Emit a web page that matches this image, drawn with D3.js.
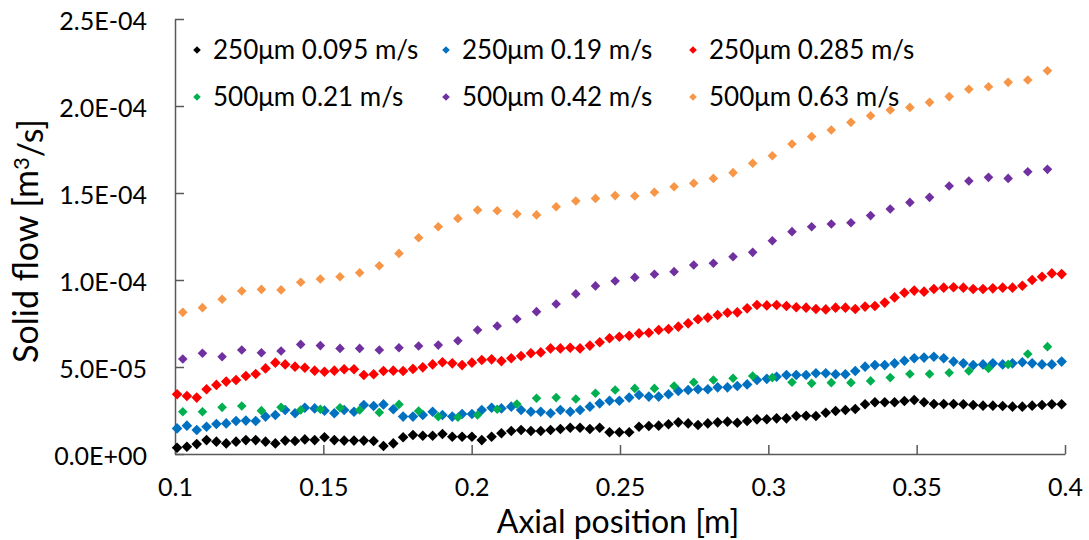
<!DOCTYPE html>
<html>
<head>
<meta charset="utf-8">
<script src="https://cdn.jsdelivr.net/npm/d3@7"></script>
<style>
  html, body { margin: 0; padding: 0; background: #ffffff; }
  svg { display: block; font-family: Lato, "Open Sans", "Liberation Sans", sans-serif; }
</style>
</head>
<body>
<svg id="chart" width="1089" height="540"></svg>
<script>
// Solid flow along the axial position, values in units of 1e-5 m³/s
const UNIT = 1e-5;

// Fine sampling grid (91 stations) and coarse grid (45 stations), axial position in m
const fineStart = 0.1007, fineStep = 0.003313, fineCount = 91;
const coarseStart = 0.10263, coarseStep = 0.006624, coarseCount = 45;

const flow250_0095 = [
  0.36, 0.42, 0.57, 0.80, 0.71, 0.61, 0.71, 0.80, 0.80, 0.71,
  0.61, 0.77, 0.75, 0.84, 0.80, 0.96, 0.80, 0.77, 0.77, 0.77,
  0.75, 0.46, 0.61, 0.96, 1.09, 1.05, 1.05, 1.15, 0.99, 0.99,
  0.99, 0.80, 0.99, 1.19, 1.32, 1.38, 1.32, 1.32, 1.38, 1.44,
  1.51, 1.51, 1.44, 1.51, 1.25, 1.25, 1.25, 1.57, 1.61, 1.63,
  1.71, 1.82, 1.76, 1.67, 1.76, 1.82, 1.86, 1.80, 1.90, 1.99,
  2.00, 2.05, 2.05, 2.18, 2.20, 2.18, 2.37, 2.47, 2.53, 2.59,
  2.86, 2.97, 2.97, 2.97, 3.05, 3.10, 2.97, 2.87, 2.87, 2.87,
  2.86, 2.82, 2.78, 2.78, 2.76, 2.72, 2.72, 2.78, 2.82, 2.86,
  2.86
];

const flow250_019 = [
  1.47, 1.63, 1.38, 1.57, 1.72, 1.76, 1.90, 1.92, 1.90, 2.15,
  2.24, 2.53, 2.34, 2.66, 2.62, 2.49, 2.34, 2.53, 2.43, 2.82,
  2.76, 2.85, 2.57, 2.15, 2.15, 2.24, 2.43, 2.24, 2.15, 2.30,
  2.30, 2.53, 2.66, 2.62, 2.72, 2.53, 2.43, 2.43, 2.34, 2.53,
  2.43, 2.53, 2.72, 2.91, 3.06, 3.06, 3.24, 3.39, 3.30, 3.30,
  3.43, 3.62, 3.68, 3.72, 3.72, 3.83, 3.83, 3.91, 4.00, 4.25,
  4.32, 4.44, 4.54, 4.54, 4.54, 4.64, 4.64, 4.58, 4.58, 4.77,
  5.02, 5.11, 5.11, 5.21, 5.36, 5.50, 5.54, 5.59, 5.50, 5.31,
  5.21, 5.11, 5.15, 5.21, 5.15, 5.21, 5.27, 5.21, 5.15, 5.15,
  5.31
];

const flow250_0285 = [
  3.43, 3.33, 3.24, 3.72, 3.97, 4.16, 4.25, 4.48, 4.60, 4.92,
  5.25, 5.15, 5.02, 4.96, 4.79, 4.73, 4.79, 4.87, 4.87, 4.54,
  4.58, 4.77, 4.79, 4.77, 4.89, 4.98, 5.15, 5.27, 5.21, 5.11,
  5.25, 5.40, 5.44, 5.34, 5.50, 5.63, 5.79, 5.84, 6.07, 6.07,
  6.11, 6.07, 6.23, 6.42, 6.65, 6.74, 6.80, 6.93, 6.97, 7.13,
  7.18, 7.32, 7.51, 7.74, 7.84, 7.99, 8.12, 8.14, 8.37, 8.56,
  8.54, 8.56, 8.51, 8.43, 8.41, 8.33, 8.31, 8.41, 8.41, 8.33,
  8.47, 8.51, 8.70, 9.00, 9.27, 9.39, 9.33, 9.48, 9.56, 9.58,
  9.56, 9.48, 9.48, 9.52, 9.56, 9.56, 9.67, 10.00, 10.19, 10.38,
  10.34
];

const flow500_021 = [
  2.43, 2.43, 2.68, 2.76, 2.49, 2.68, 2.53, 2.57, 2.66, 2.53,
  2.39, 2.85, 2.47, 2.15, 2.11, 2.24, 2.57, 2.87, 3.20, 3.24,
  3.16, 3.49, 3.68, 3.77, 3.77, 3.91, 4.12, 4.25, 4.35, 4.48,
  4.39, 4.12, 4.06, 4.10, 4.10, 4.20, 4.39, 4.60, 4.60, 4.67,
  4.77, 4.92, 5.15, 5.75, 6.17
];

const flow500_042 = [
  5.46, 5.79, 5.59, 5.98, 5.82, 5.92, 6.30, 6.23, 6.07, 6.07,
  5.98, 6.11, 6.21, 6.26, 6.51, 7.13, 7.36, 7.76, 8.18, 8.62,
  9.20, 9.66, 9.94, 10.15, 10.33, 10.48, 10.86, 10.96, 11.34, 11.59,
  12.26, 12.78, 13.06, 13.22, 13.29, 13.70, 14.08, 14.46, 14.75, 15.40,
  15.69, 15.90, 15.84, 16.22, 16.36
];

const flow500_063 = [
  8.14, 8.41, 8.89, 9.37, 9.46, 9.43, 9.87, 10.06, 10.19, 10.42,
  10.82, 11.53, 12.43, 13.06, 13.54, 14.02, 13.98, 13.79, 13.74, 14.21,
  14.54, 14.69, 14.85, 14.83, 15.04, 15.36, 15.56, 15.84, 16.17, 16.71,
  17.14, 17.82, 18.24, 18.62, 19.06, 19.44, 19.77, 19.92, 20.21, 20.54,
  20.96, 21.11, 21.36, 21.49, 22.03
];

const seriesNames = [
  "250μm 0.095 m/s", "250μm 0.19 m/s", "250μm 0.285 m/s",
  "500μm 0.21 m/s", "500μm 0.42 m/s", "500μm 0.63 m/s"
];
const seriesColors = ["#000000", "#0070C0", "#FF0000", "#00B050", "#7030A0", "#F79646"];
const seriesValues = [flow250_0095, flow250_019, flow250_0285, flow500_021, flow500_042, flow500_063];
const seriesGrid = ["fine", "fine", "fine", "coarse", "coarse", "coarse"];

const xTicks = [0.1, 0.15, 0.2, 0.25, 0.3, 0.35, 0.4];
const xTickLabels = ["0.1", "0.15", "0.2", "0.25", "0.3", "0.35", "0.4"];
const yTicks = [0, 5e-5, 1e-4, 1.5e-4, 2e-4, 2.5e-4];
const yTickLabels = ["0.0E+00", "5.0E-05", "1.0E-04", "1.5E-04", "2.0E-04", "2.5E-04"];

const svg = d3.select("#chart");
const plot = { left: 175, right: 1065, top: 19, bottom: 454 };

const x = d3.scaleLinear().domain([0.1, 0.4]).range([plot.left, plot.right]);
const y = d3.scaleLinear().domain([0, 2.5e-4]).range([plot.bottom, plot.top]);

const fineX = d3.range(fineCount).map(i => fineStart + i * fineStep);
const coarseX = d3.range(coarseCount).map(i => coarseStart + i * coarseStep);

// Axes: ticks point into the plot area
const axisColor = "#595959";
const yAxis = d3.axisLeft(y).tickValues(yTicks)
  .tickFormat((d, i) => yTickLabels[i]).tickSizeInner(-9).tickSizeOuter(0).tickPadding(28);
const xAxis = d3.axisBottom(x).tickValues(xTicks)
  .tickFormat((d, i) => xTickLabels[i]).tickSizeInner(-9).tickSizeOuter(0).tickPadding(28);

const gy = svg.append("g").attr("transform", `translate(${plot.left},0)`).call(yAxis);
const gx = svg.append("g").attr("transform", `translate(0,${plot.bottom})`).call(xAxis);

[gx, gy].forEach(g => {
  g.select(".domain").attr("stroke", axisColor).attr("stroke-width", 1.5);
  g.selectAll(".tick line").attr("stroke", axisColor).attr("stroke-width", 1.5);
  g.selectAll(".tick text").attr("fill", "#000").style("font-size", "25px")
    .style("font-family", "Lato, 'Open Sans', sans-serif");
});
gy.selectAll(".tick text").attr("dy", "0.4em");
gx.selectAll(".tick text").attr("dy", "0.56em");

// Diamond markers
const diamond = r => `M0,${-r}L${r},0L0,${r}L${-r},0Z`;

seriesValues.forEach((vals, s) => {
  const xs = seriesGrid[s] === "fine" ? fineX : coarseX;
  const r = seriesGrid[s] === "fine" ? 5.3 : 4.8;
  svg.append("g").selectAll("path")
    .data(vals.map((v, i) => [xs[i], v * UNIT]))
    .join("path")
    .attr("d", diamond(r))
    .attr("transform", d => `translate(${x(d[0])},${y(d[1])})`)
    .attr("fill", seriesColors[s]);
});

// Legend, three columns by two rows
const legendCols = [197, 446, 693];
const legendRows = [50, 97];
const legend = svg.append("g");
seriesNames.forEach((name, s) => {
  const cx = legendCols[s % 3], cy = legendRows[Math.floor(s / 3)];
  legend.append("path").attr("d", diamond(3.8))
    .attr("transform", `translate(${cx},${cy})`).attr("fill", seriesColors[s]);
  legend.append("text").attr("x", cx + 16).attr("y", cy).attr("dy", "0.36em")
    .style("font-size", "26px").attr("fill", "#000").text(name);
});

// Axis titles
svg.append("text")
  .attr("x", 618).attr("y", 533)
  .attr("text-anchor", "middle").style("font-size", "32px").attr("fill", "#000")
  .text("Axial position [m]");

const yTitle = svg.append("text")
  .attr("transform", "translate(38,241) rotate(-90)")
  .attr("text-anchor", "middle").style("font-size", "34px").attr("fill", "#000");
yTitle.append("tspan").text("Solid flow [m");
yTitle.append("tspan").attr("dy", "-0.42em").style("font-size", "22px").text("3");
yTitle.append("tspan").attr("dy", "0.42em").text("/s]");
</script>
</body>
</html>
